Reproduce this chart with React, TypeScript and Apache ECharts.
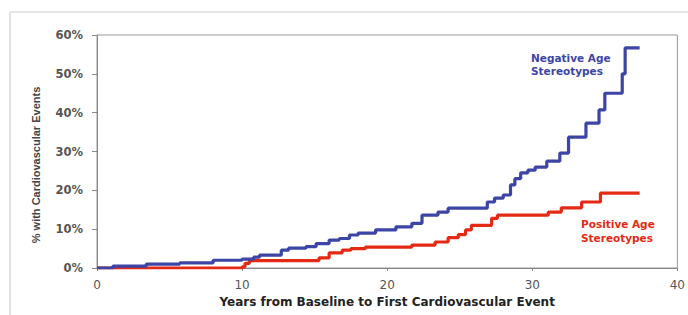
import React, { useEffect, useRef } from "react";
import * as echarts from "echarts";

const negativeYears = [0, 1.1, 3.4, 5.7, 8.0, 10.0, 10.8, 11.2, 12.7, 13.2, 14.4, 15.1, 16.0, 16.7, 17.4, 18.0, 19.2, 20.6, 21.7, 22.4, 23.5, 24.2, 26.9, 27.4, 28.0, 28.5, 28.8, 29.2, 29.7, 30.2, 31.0, 31.9, 32.5, 33.7, 34.6, 35.0, 36.2, 36.4, 37.4];
const negativePct = [0, 0.5, 1.0, 1.3, 2.0, 2.3, 2.8, 3.3, 4.6, 5.1, 5.5, 6.3, 7.2, 7.6, 8.5, 9.0, 9.8, 10.6, 11.5, 13.6, 14.4, 15.4, 17.0, 18.0, 18.8, 21.4, 23.0, 24.5, 25.2, 26.0, 27.5, 29.6, 33.7, 37.3, 40.7, 45.0, 50.0, 56.7, 56.7];

const positiveYears = [0, 10.0, 10.2, 10.5, 15.3, 16.0, 16.9, 17.5, 18.5, 21.7, 23.3, 24.2, 24.9, 25.4, 25.8, 27.2, 27.6, 31.1, 32.0, 33.4, 34.7, 37.4];
const positivePct = [0, 0.3, 1.2, 1.9, 2.6, 3.9, 4.6, 5.0, 5.4, 5.9, 6.7, 7.8, 8.6, 9.8, 11.0, 12.8, 13.6, 14.4, 15.5, 17.0, 19.3, 19.3];

const yTicks = [0, 10, 20, 30, 40, 50, 60];
const xTicks = [0, 10, 20, 30, 40];

const BLUE = "#3c44a6";
const RED = "#e42a14";
const WIDE = "DejaVu Sans, Verdana, sans-serif";
const NARROW = "Liberation Sans, Arial, sans-serif";

export default function App() {
  const ref = useRef<HTMLDivElement>(null);
  useEffect(() => {
    if (!ref.current) return;
    const chart = echarts.init(ref.current, undefined, { renderer: "svg" });
    chart.setOption({
      animation: false,
      backgroundColor: "#fff",
      textStyle: { fontFamily: WIDE },
      grid: {
        left: 97,
        top: 35,
        right: 7,
        bottom: 47,
        show: true,
        borderColor: "#999",
        borderWidth: 1,
      },
      xAxis: {
        type: "value",
        min: xTicks[0],
        max: xTicks[xTicks.length - 1],
        interval: 10,
        name: "Years from Baseline to First Cardiovascular Event",
        nameLocation: "middle",
        nameGap: 28,
        nameTextStyle: { fontSize: 12, fontWeight: "bold", color: "#222", fontFamily: WIDE },
        axisLine: { lineStyle: { color: "#888" } },
        axisTick: { show: true, length: 3, lineStyle: { color: "#888" } },
        axisLabel: { fontSize: 12, color: "#555", margin: 11, fontFamily: WIDE },
        splitLine: { show: false },
      },
      yAxis: {
        type: "value",
        min: yTicks[0],
        max: yTicks[yTicks.length - 1],
        interval: 10,
        axisLine: { show: true, lineStyle: { color: "#888" } },
        axisTick: { show: true, length: 5, lineStyle: { color: "#888" } },
        axisLabel: {
          fontSize: 11.5,
          fontWeight: "bold",
          color: "#555",
          margin: 14,
          formatter: "{value}%",
          fontFamily: WIDE,
        },
        splitLine: { show: false },
      },
      series: [
        {
          name: "Negative Age Stereotypes",
          type: "line",
          step: "end",
          symbol: "none",
          data: negativeYears.map((x, i) => [x, negativePct[i]]),
          lineStyle: { color: BLUE, width: 3.2 },
          z: 3,
        },
        {
          name: "Positive Age Stereotypes",
          type: "line",
          step: "end",
          symbol: "none",
          data: positiveYears.map((x, i) => [x, positivePct[i]]),
          lineStyle: { color: RED, width: 3.2 },
          z: 2,
        },
      ],
      graphic: [
        {
          type: "rect",
          shape: { x: 10, y: 12, width: 700, height: 320 },
          style: { fill: "none", stroke: "#c8c8c8", lineWidth: 1 },
          silent: true,
        },
        {
          type: "text",
          x: 36,
          y: 165,
          rotation: Math.PI / 2,
          style: {
            text: "% with Cardiovascular Events",
            fill: "#444",
            font: "bold 11px " + NARROW,
            align: "center",
            verticalAlign: "middle",
          },
        },
        {
          type: "text",
          x: 531,
          y: 51,
          style: {
            text: "Negative Age\nStereotypes",
            fill: BLUE,
            font: "bold 10.5px " + WIDE,
            lineHeight: 13,
          },
        },
        {
          type: "text",
          x: 581,
          y: 217,
          style: {
            text: "Positive Age\nStereotypes",
            fill: RED,
            font: "bold 10.5px " + WIDE,
            lineHeight: 14,
          },
        },
      ],
    });
    return () => chart.dispose();
  }, []);
  return <div ref={ref} style={{ position: "fixed", left: 0, top: 0, width: 688, height: 315 }} />;
}
